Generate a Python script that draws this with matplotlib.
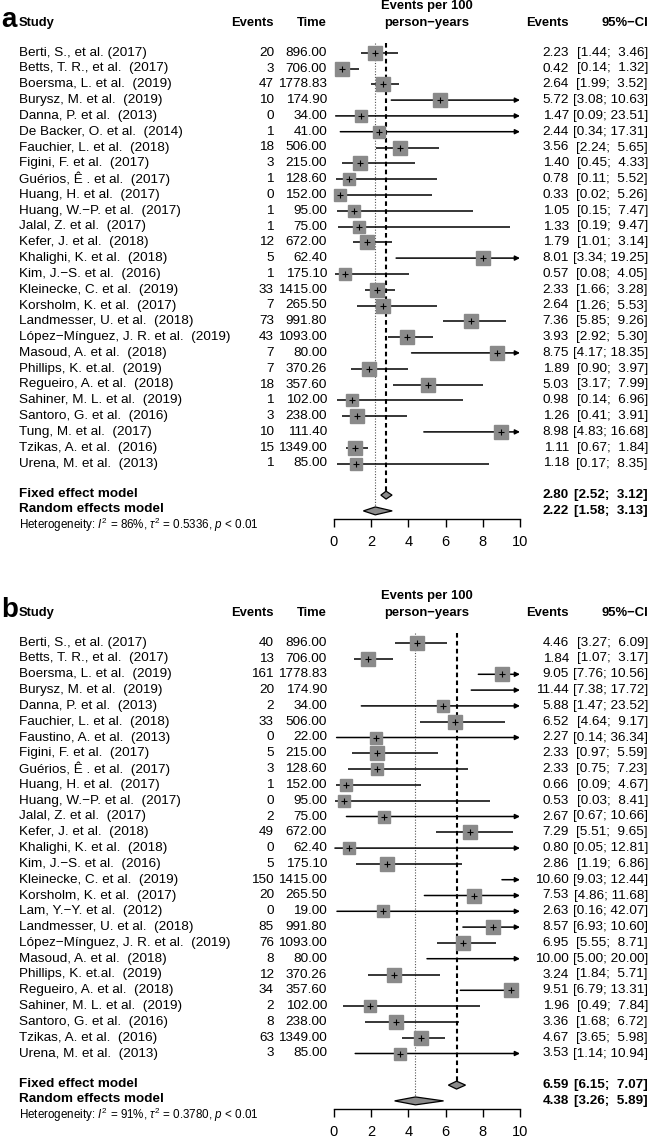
import numpy as np
import matplotlib
matplotlib.use("Agg")
import matplotlib.pyplot as plt
from matplotlib.transforms import blended_transform_factory

plt.rcParams['font.family'] = ['Liberation Sans', 'DejaVu Sans']
plt.rcParams['mathtext.fontset'] = 'custom'
plt.rcParams['mathtext.rm'] = 'Liberation Sans'
plt.rcParams['mathtext.it'] = 'Liberation Sans:italic'
plt.rcParams['mathtext.bf'] = 'Liberation Sans:bold'

# ---- panel a: data ----
studies_a = ["Berti, S., et al. (2017)", "Betts, T. R., et al.  (2017)", "Boersma, L. et al.  (2019)",
             "Burysz, M. et al.  (2019)", "Danna, P. et al.  (2013)", "De Backer, O. et al.  (2014)",
             "Fauchier, L. et al.  (2018)", "Figini, F. et al.  (2017)", "Guérios, Ê . et al.  (2017)",
             "Huang, H. et al.  (2017)", "Huang, W.\u2212P. et al.  (2017)", "Jalal, Z. et al.  (2017)",
             "Kefer, J. et al.  (2018)", "Khalighi, K. et al.  (2018)", "Kim, J.\u2212S. et al.  (2016)",
             "Kleinecke, C. et al.  (2019)", "Korsholm, K. et al.  (2017)", "Landmesser, U. et al.  (2018)",
             "López\u2212Mínguez, J. R. et al.  (2019)", "Masoud, A. et al.  (2018)", "Phillips, K. et.al.  (2019)",
             "Regueiro, A. et al.  (2018)", "Sahiner, M. L. et al.  (2019)", "Santoro, G. et al.  (2016)",
             "Tung, M. et al.  (2017)", "Tzikas, A. et al.  (2016)", "Urena, M. et al.  (2013)"]
events_a = [20, 3, 47, 10, 0, 1, 18, 3, 1, 0, 1, 1, 12, 5, 1, 33, 7, 73, 43, 7, 7, 18, 1, 3, 10, 15, 1]
time_a = [896.00, 706.00, 1778.83, 174.90, 34.00, 41.00, 506.00, 215.00, 128.60, 152.00, 95.00, 75.00,
          672.00, 62.40, 175.10, 1415.00, 265.50, 991.80, 1093.00, 80.00, 370.26, 357.60, 102.00,
          238.00, 111.40, 1349.00, 85.00]
rate_a = [2.23, 0.42, 2.64, 5.72, 1.47, 2.44, 3.56, 1.40, 0.78, 0.33, 1.05, 1.33, 1.79, 8.01, 0.57,
          2.33, 2.64, 7.36, 3.93, 8.75, 1.89, 5.03, 0.98, 1.26, 8.98, 1.11, 1.18]
lo_a = [1.44, 0.14, 1.99, 3.08, 0.09, 0.34, 2.24, 0.45, 0.11, 0.02, 0.15, 0.19, 1.01, 3.34, 0.08,
        1.66, 1.26, 5.85, 2.92, 4.17, 0.90, 3.17, 0.14, 0.41, 4.83, 0.67, 0.17]
hi_a = [3.46, 1.32, 3.52, 10.63, 23.51, 17.31, 5.65, 4.33, 5.52, 5.26, 7.47, 9.47, 3.14, 19.25, 4.05,
        3.28, 5.53, 9.26, 5.30, 18.35, 3.97, 7.99, 6.96, 3.91, 16.68, 1.84, 8.35]
fixed_a = (2.80, 2.52, 3.12)
random_a = (2.22, 1.58, 3.13)
het_a = ("86%", "0.5336")

# ---- panel b: data ----
studies_b = ["Berti, S., et al. (2017)", "Betts, T. R., et al.  (2017)", "Boersma, L. et al.  (2019)",
             "Burysz, M. et al.  (2019)", "Danna, P. et al.  (2013)", "Fauchier, L. et al.  (2018)",
             "Faustino, A. et al.  (2013)", "Figini, F. et al.  (2017)", "Guérios, Ê . et al.  (2017)",
             "Huang, H. et al.  (2017)", "Huang, W.\u2212P. et al.  (2017)", "Jalal, Z. et al.  (2017)",
             "Kefer, J. et al.  (2018)", "Khalighi, K. et al.  (2018)", "Kim, J.\u2212S. et al.  (2016)",
             "Kleinecke, C. et al.  (2019)", "Korsholm, K. et al.  (2017)", "Lam, Y.\u2212Y. et al.  (2012)",
             "Landmesser, U. et al.  (2018)", "López\u2212Mínguez, J. R. et al.  (2019)", "Masoud, A. et al.  (2018)",
             "Phillips, K. et.al.  (2019)", "Regueiro, A. et al.  (2018)", "Sahiner, M. L. et al.  (2019)",
             "Santoro, G. et al.  (2016)", "Tzikas, A. et al.  (2016)", "Urena, M. et al.  (2013)"]
events_b = [40, 13, 161, 20, 2, 33, 0, 5, 3, 1, 0, 2, 49, 0, 5, 150, 20, 0, 85, 76, 8, 12, 34, 2, 8, 63, 3]
time_b = [896.00, 706.00, 1778.83, 174.90, 34.00, 506.00, 22.00, 215.00, 128.60, 152.00, 95.00, 75.00,
          672.00, 62.40, 175.10, 1415.00, 265.50, 19.00, 991.80, 1093.00, 80.00, 370.26, 357.60,
          102.00, 238.00, 1349.00, 85.00]
rate_b = [4.46, 1.84, 9.05, 11.44, 5.88, 6.52, 2.27, 2.33, 2.33, 0.66, 0.53, 2.67, 7.29, 0.80, 2.86,
          10.60, 7.53, 2.63, 8.57, 6.95, 10.00, 3.24, 9.51, 1.96, 3.36, 4.67, 3.53]
lo_b = [3.27, 1.07, 7.76, 7.38, 1.47, 4.64, 0.14, 0.97, 0.75, 0.09, 0.03, 0.67, 5.51, 0.05, 1.19,
        9.03, 4.86, 0.16, 6.93, 5.55, 5.00, 1.84, 6.79, 0.49, 1.68, 3.65, 1.14]
hi_b = [6.09, 3.17, 10.56, 17.72, 23.52, 9.17, 36.34, 5.59, 7.23, 4.67, 8.41, 10.66, 9.65, 12.81, 6.86,
        12.44, 11.68, 42.07, 10.60, 8.71, 20.00, 5.71, 13.31, 7.84, 6.72, 5.98, 10.94]
fixed_b = (6.59, 6.15, 7.07)
random_b = (4.38, 3.26, 5.89)
het_b = ("91%", "0.3780")

xticks = [0, 2, 4, 6, 8, 10]

W, H = 650, 1143
fig = plt.figure(figsize=(W / 100, H / 100), dpi=100)

ROW0, STEP, AXIS_PX = 52.7, 15.8, 519   # pixel layout inside one panel
FS, FSH = 9.7, 9.4
GRAY = '#8a8a8a'


def prow(px):
    # pixel offset within panel -> row units
    return (px - ROW0) / STEP


def ci_text(lo, hi):
    return f"[{lo:.2f}; {hi:5.2f}]"


def forest(top, letter, studies, events, times, rates, lo, hi, fixed, rand, het):
    ax = fig.add_axes([334 / W, 1 - (top + AXIS_PX) / H, (520 - 334) / W, AXIS_PX / H])
    ax.set_xlim(0, 10)
    ax.set_ylim(prow(AXIS_PX), prow(0))
    ax.patch.set_visible(False)
    for s in ['top', 'left', 'right']:
        ax.spines[s].set_visible(False)
    ax.spines['bottom'].set_linewidth(1.0)
    ax.set_yticks([])
    ax.set_xticks(xticks)
    ax.set_xticklabels([str(t) for t in xticks])
    ax.tick_params(axis='x', length=5.8, width=1.0, pad=6, labelsize=10.5)

    tr = blended_transform_factory(fig.transFigure, ax.transData)
    xf = lambda px: px / W

    # headers
    ax.text(xf(1), prow(27), letter, transform=tr, fontsize=20, fontweight='bold', va='baseline', ha='left')
    hy = prow(23)
    ax.text(xf(19), hy, "Study", transform=tr, fontsize=FSH, fontweight='bold', va='center')
    ax.text(xf(274), hy, "Events", transform=tr, fontsize=FSH, fontweight='bold', va='center', ha='right')
    ax.text(xf(327), hy, "Time", transform=tr, fontsize=FSH, fontweight='bold', va='center', ha='right')
    ax.text(5, prow(6), "Events per 100", fontsize=FSH, fontweight='bold', va='center', ha='center')
    ax.text(5, hy, "person\u2212years", fontsize=FSH, fontweight='bold', va='center', ha='center')
    ax.text(xf(569), hy, "Events", transform=tr, fontsize=FSH, fontweight='bold', va='center', ha='right')
    ax.text(xf(648), hy, "95%\u2212CI", transform=tr, fontsize=FSH, fontweight='bold', va='center', ha='right')

    n = len(studies)
    rows = np.arange(n)
    ev = np.array(events, dtype=float)
    w = 1.0 / (1.0 / np.where(ev > 0, ev, 0.5) + float(het[1]))
    side_pt = (10 + 4 * np.sqrt(w / w.max())) * 0.72

    for i in rows:
        ax.text(xf(19), i, studies[i], transform=tr, fontsize=FS, va='center')
        ax.text(xf(274), i, str(events[i]), transform=tr, fontsize=FS, va='center', ha='right')
        ax.text(xf(327), i, f"{times[i]:.2f}", transform=tr, fontsize=FS, va='center', ha='right')
        ax.text(xf(569), i, f"{rates[i]:.2f}", transform=tr, fontsize=FS, va='center', ha='right')
        ax.text(xf(648), i, ci_text(lo[i], hi[i]), transform=tr, fontsize=FS, va='center', ha='right')

        if hi[i] > 10:
            ax.annotate('', xy=(10, i), xytext=(lo[i], i),
                        arrowprops=dict(arrowstyle='-|>', mutation_scale=7, lw=1.1, color='black',
                                        shrinkA=0, shrinkB=0), annotation_clip=False)
        else:
            ax.plot([lo[i], hi[i]], [i, i], color='black', lw=1.1, solid_capstyle='butt',
                    clip_on=False, zorder=2)
        if rates[i] < 10:
            ax.plot(rates[i], i, marker='s', ms=side_pt[i], color=GRAY, mec=GRAY, ls='none',
                    clip_on=False, zorder=3)
            ax.plot(rates[i], i, marker='+', ms=4.5, mew=0.8, color='black', ls='none',
                    clip_on=False, zorder=4)

    fy, ry = n + 1, n + 2
    dh = 0.25
    vtop = -0.62
    ax.plot([fixed[0], fixed[0]], [vtop, fy - dh], color='black', lw=1.5, ls=(0, (2.2, 1.6)), zorder=1)
    ax.plot([rand[0], rand[0]], [vtop, ry - dh], color='#555555', lw=0.8, ls=(0, (1, 1.5)), zorder=1)
    for (est, l, u), y, name in [(fixed, fy, "Fixed effect model"), (rand, ry, "Random effects model")]:
        ax.fill([l, est, u, est], [y, y - dh, y, y + dh], facecolor=GRAY, edgecolor='black',
                lw=0.9, zorder=3, clip_on=False)
        ax.text(xf(19), y - 0.1, name, transform=tr, fontsize=FS, fontweight='bold', va='center')
        ax.text(xf(569), y, f"{est:.2f}", transform=tr, fontsize=FS, fontweight='bold',
                va='center', ha='right')
        ax.text(xf(648), y, ci_text(l, u), transform=tr, fontsize=FS, fontweight='bold',
                va='center', ha='right')
    ax.text(xf(19), prow(525),
            "Heterogeneity: $I^2$ = " + het[0] + r", $\tau^2$ = " + het[1] + ", $p$ < 0.01",
            transform=tr, fontsize=8.4, va='center')
    return ax


forest(0, "a", studies_a, events_a, time_a, rate_a, lo_a, hi_a, fixed_a, random_a, het_a)
forest(590, "b", studies_b, events_b, time_b, rate_b, lo_b, hi_b, fixed_b, random_b, het_b)

fig.savefig("out.png", dpi=100)
